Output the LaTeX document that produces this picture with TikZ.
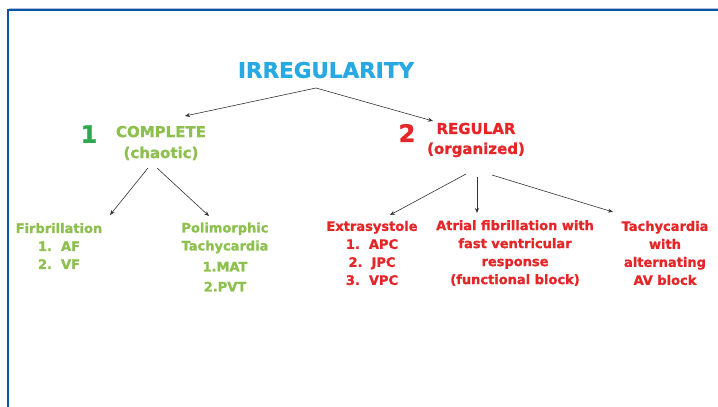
\documentclass[tikz,border=0pt]{standalone}
\usepackage{fontspec}
\setmainfont{DejaVu Sans}[BoldFeatures={FakeBold=1.2}]
\usetikzlibrary{arrows.meta}
\definecolor{titleblue}{HTML}{29A9E1}
\definecolor{leafgreen}{HTML}{8DC04F}
\definecolor{numgreen}{HTML}{2DA84E}
\definecolor{alertred}{HTML}{E52629}
\definecolor{frameblue}{HTML}{0D52A5}
\definecolor{linkgray}{HTML}{333333}
\tikzset{
  title/.style={text=titleblue, font=\bfseries\fontsize{21.5}{24}\selectfont, inner sep=0pt},
  headgreen/.style={text=leafgreen, align=center, font=\bfseries\fontsize{15}{21}\selectfont, inner sep=0pt},
  headred/.style={text=alertred, align=center, font=\bfseries\fontsize{15}{20}\selectfont, inner sep=0pt},
  bignum/.style={font=\bfseries\fontsize{24}{26}\selectfont, inner sep=0pt},
  leafg/.style={text=leafgreen, align=center, font=\bfseries\fontsize{13}{18}\selectfont, inner sep=0pt},
  leafr/.style={text=alertred, align=center, font=\bfseries\fontsize{13}{18}\selectfont, inner sep=0pt},
  link/.style={draw=linkgray, line width=0.6pt, -{Stealth[length=5pt,width=4pt]}}
}
\begin{document}
\begin{tikzpicture}[x=1pt,y=-1pt]
\useasboundingbox (0,0) rectangle (718,407);
\fill[white] (0,0) rectangle (718,407);
% slide frame
\draw[frameblue!35, line width=0.8pt] (8.5,8.6) -- (718,8.6);
\draw[frameblue, line width=1.4pt] (8,407) -- (8,10) -- (718,10);

% root
\node[title] (irr) at (326,70) {IRREGULARITY};

% first level
\node[bignum, text=numgreen] (n1) at (89,134) {1};
\node[headgreen] (complete) at (161,143) {COMPLETE\\(chaotic)};
\node[bignum, text=alertred] (n2) at (407,133) {2};
\node[headred] (regular) at (476,140) {REGULAR\\(organized)};

% second level, chaotic branch
\node[leafg] (fib) at (59,246) {Firbrillation\\1.\ \ AF\\2.\ \ VF};
\node[leafg] (poly) at (225,257) {Polimorphic\\Tachycardia\\[3pt]1.MAT\\[2pt]2.PVT};

% second level, organized branch
\node[leafr] (extra) at (372,253) {Extrasystole\\1.\ \ APC\\2.\ \ JPC\\3.\ \ VPC};
\node[leafr] (afib) at (515,253) {Atrial fibrillation with\\fast ventricular\\response\\(functional block)};
\node[leafr] (tachy) at (665,253) {Tachycardia\\with\\alternating\\AV block};

% fork points and arrow ends
\coordinate (irrfork) at (316,88);
\coordinate (toC) at (185,116);
\coordinate (toR) at (433,121);
\coordinate (cforkL) at (148,168);
\coordinate (cforkR) at (157,168);
\coordinate (toFib) at (110,215);
\coordinate (toPoly) at (209,216);
\coordinate (rforkL) at (466,174);
\coordinate (rforkM) at (477,177);
\coordinate (rforkR) at (492,175);
\coordinate (toExtra) at (390,215);
\coordinate (toAfib) at (477,213);
\coordinate (toTachy) at (613,212);

\draw[link] (irrfork) -- (toC);
\draw[link] (irrfork) -- (toR);
\draw[link] (cforkL) -- (toFib);
\draw[link] (cforkR) -- (toPoly);
\draw[link] (rforkL) -- (toExtra);
\draw[link] (rforkM) -- (toAfib);
\draw[link] (rforkR) -- (toTachy);
\end{tikzpicture}
\end{document}
